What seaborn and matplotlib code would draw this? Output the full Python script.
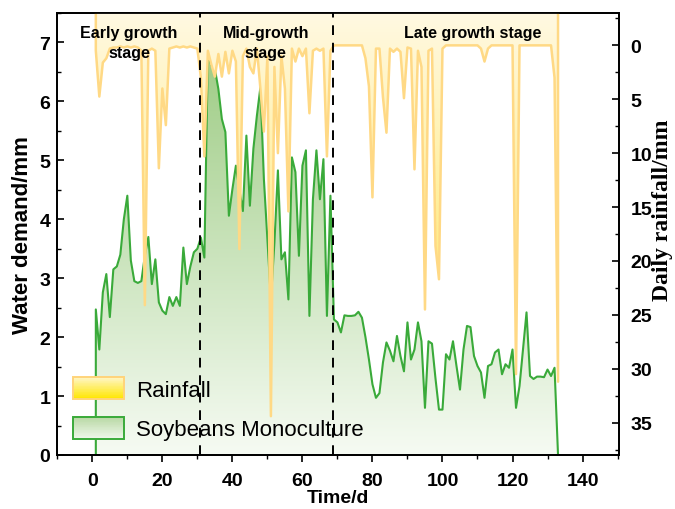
import numpy as np
import pandas as pd
import matplotlib
matplotlib.use("Agg")
import matplotlib.pyplot as plt
import seaborn as sns
from matplotlib.patches import PathPatch, Rectangle, Patch
from matplotlib.colors import LinearSegmentedColormap, to_rgb
from matplotlib.legend_handler import HandlerBase
from matplotlib.ticker import MultipleLocator
import matplotlib.transforms as mtransforms

# ---------------- data ----------------
days = list(range(1, 134))

water_demand = [
    2.47, 1.79, 2.76, 3.07, 2.34, 3.15, 3.20, 3.40, 4.00, 4.40,
    3.30, 2.95, 2.92, 2.95, 3.38, 3.70, 2.90, 3.32, 2.59, 2.45,
    2.39, 2.68, 2.53, 2.68, 2.53, 3.52, 2.90, 3.20, 3.44, 3.50,
    3.69, 3.35, 6.81, 6.61, 6.55, 6.21, 5.70, 5.48, 4.06, 4.51,
    4.91, 4.50, 4.14, 5.42, 4.23, 5.20, 5.76, 6.24, 4.68, 3.66,
    2.64, 3.60, 4.83, 3.32, 3.44, 2.64, 5.05, 4.80, 3.38, 4.91,
    5.17, 2.36, 4.34, 5.17, 4.34, 5.02, 2.36, 4.40, 2.30, 2.25,
    2.08, 2.37, 2.36, 2.36, 2.37, 2.43, 2.33, 2.00, 1.62, 1.20,
    0.97, 1.05, 1.57, 1.91, 1.77, 1.59, 2.02, 1.68, 1.42, 2.25,
    1.62, 1.79, 2.25, 1.93, 0.80, 1.93, 1.89, 1.30, 0.77, 0.77,
    1.71, 1.62, 1.93, 1.51, 1.11, 1.79, 2.19, 2.17, 1.68, 1.51,
    1.40, 0.97, 1.51, 1.54, 1.74, 1.79, 1.37, 1.54, 1.48, 1.79,
    0.80, 1.17, 1.79, 2.42, 1.34, 1.29, 1.33, 1.33, 1.32, 1.45,
    1.34, 1.48, 0.00,
]

rainfall = [
    0.5, 4.75, 1.6, 1.2, 0.3, 0.2, 0.2, 0.1, 0.2, 0.1,
    0.2, 0.1, 0.2, 0.5, 24.1, 0.5, 0.3, 0.5, 11.4, 4.0,
    7.4, 0.3, 0.2, 0.1, 0.2, 0.1, 0.2, 0.1, 0.2, 0.3,
    3.0, 10.3, 0.5, 1.8, 2.9, 0.8, 2.9, 0.6, 2.6, 0.5,
    1.5, 18.9, 1.0, 0.3, 2.0, 2.6, 0.3, 4.0, 8.0, 1.0,
    34.4, 2.0, 10.0, 1.0, 4.0, 15.4, 0.3, 1.5, 0.3, 1.0,
    0.3, 6.3, 0.5, 0.3, 0.5, 0.3, 10.3, 0.5, 0.0, 0.0,
    0.0, 0.0, 0.0, 0.0, 0.0, 0.0, 0.0, 1.2, 3.8, 14.1,
    0.3, 0.3, 4.8, 8.1, 0.3, 0.6, 0.3, 0.6, 4.9, 0.2,
    0.3, 11.5, 0.5, 2.0, 24.5, 0.5, 0.3, 18.6, 21.7, 0.3,
    0.0, 0.0, 0.0, 0.0, 0.0, 0.0, 0.0, 0.0, 0.0, 0.0,
    0.3, 1.5, 0.3, 0.0, 0.0, 0.0, 0.0, 0.0, 0.0, 0.0,
    30.5, 0.0, 0.0, 0.0, 0.0, 0.0, 0.0, 0.0, 0.0, 0.0,
    0.0, 3.0, 31.2,
]

stage_bounds = [30.8, 68.7]
stage_labels = ["Early growth\nstage", "Mid-growth\nstage", "Late growth stage"]
stage_label_x = [10.5, 49.5, 108.6]
legend_labels = ["Rainfall", "Soybeans Monoculture"]

x_ticks = [0, 20, 40, 60, 80, 100, 120, 140]
left_ticks = [0, 1, 2, 3, 4, 5, 6, 7]
right_ticks = [0, 5, 10, 15, 20, 25, 30, 35]

# ---------------- style ----------------
sns.set_theme(style="ticks")
plt.rcParams["font.family"] = ["Liberation Sans", "DejaVu Sans"]
plt.rcParams["axes.linewidth"] = 1.3
plt.rcParams["text.color"] = "black"
plt.rcParams["axes.labelcolor"] = "black"
plt.rcParams["xtick.color"] = "black"
plt.rcParams["ytick.color"] = "black"

GREEN = "#3aaa3a"
GREEN_TOP = "#9ccb82"
GREEN_BOT = "#f6fbf3"
RAIN_LINE = "#ffd985"
RAIN_TOP = "#fff9e2"
RAIN_DEEP = "#ffe34a"

fig = plt.figure(figsize=(6.75, 5.1), dpi=100)
ax = fig.add_axes([0.0849, 0.1059, 0.9175 - 0.0849, 0.9725 - 0.1059])
ax2 = ax.twinx()

df = pd.DataFrame({"day": days, "water": water_demand, "rain": rainfall})


def gradient_fill(axis, x, y_from, y_to, c_lo, c_hi, v_lo, v_hi, zorder):
    coll = axis.fill_between(x, y_from, y_to, facecolor="none", edgecolor="none")
    path = coll.get_paths()[0]
    coll.remove()
    patch = PathPatch(path, transform=axis.transData, facecolor="none", edgecolor="none")
    axis.add_patch(patch)
    cmap = LinearSegmentedColormap.from_list("grad", [c_lo, c_hi])
    grad = np.linspace(0, 1, 256).reshape(-1, 1)
    im = axis.imshow(grad, extent=[min(x), max(x), v_lo, v_hi], origin="lower",
                     aspect="auto", cmap=cmap, zorder=zorder, interpolation="bilinear")
    im.set_clip_path(patch)
    return im


# --- water demand (left axis) ---
gradient_fill(ax, df["day"], 0, df["water"], GREEN_BOT, GREEN_TOP, 0, 7.0, 1)
edge_x = [days[0]] + days + [days[-1]]
edge_w = [0] + water_demand + [0]
sns.lineplot(x=edge_x, y=edge_w, ax=ax, color=GREEN, lw=1.5, sort=False,
             estimator=None, zorder=2, legend=False)

# --- rainfall (right axis, inverted) ---
RTOP = -3
gradient_fill(ax2, df["day"], RTOP, df["rain"], RAIN_TOP, RAIN_DEEP, RTOP, 36, 1)
edge_r = [RTOP] + rainfall + [RTOP]
sns.lineplot(x=edge_x, y=edge_r, ax=ax2, color=RAIN_LINE, lw=1.8, sort=False,
             estimator=None, zorder=2, legend=False)

# stage separators
for b in stage_bounds:
    ax2.axvline(b, color="black", lw=1.4, ls=(0, (5, 4)), zorder=5)

trans = mtransforms.blended_transform_factory(ax2.transData, ax2.transAxes)
for lx, lab in zip(stage_label_x, stage_labels):
    ax2.text(lx, 0.972, lab, ha="center", va="top", fontsize=11.5,
             fontweight="bold", color="black", transform=trans,
             linespacing=1.42, zorder=6)

# ---------------- axes ----------------
ax.set_xlim(-10, 150.5)
ax.set_ylim(0, 7.5)
ax2.set_ylim(38, RTOP)
ax2.set_xlim(-10, 150.5)

ax.set_xticks(x_ticks)
ax.set_yticks(left_ticks)
ax2.set_yticks(right_ticks)
ax.xaxis.set_minor_locator(MultipleLocator(10))
ax.yaxis.set_minor_locator(MultipleLocator(0.5))
ax2.yaxis.set_minor_locator(MultipleLocator(2.5))

ax.tick_params(axis="x", which="major", direction="out", length=5, width=1.2,
               labelsize=14, pad=7, colors="black")
ax.tick_params(axis="x", which="minor", direction="out", length=3, width=1.0)
ax.tick_params(axis="y", which="major", direction="in", length=5, width=1.2,
               labelsize=14, pad=5, colors="black")
ax.tick_params(axis="y", which="minor", direction="in", length=3, width=1.0)
ax2.tick_params(axis="y", which="major", direction="in", length=5, width=1.2,
                labelsize=14, pad=8, colors="black")
ax2.tick_params(axis="y", which="minor", direction="in", length=3, width=1.0)

for lab in ax.get_xticklabels() + ax.get_yticklabels() + ax2.get_yticklabels():
    lab.set_fontweight("bold")

for sp in list(ax.spines.values()) + list(ax2.spines.values()):
    sp.set_color("black")
    sp.set_linewidth(1.3)

ax.set_xlabel("Time/d", fontsize=14, fontweight="bold", labelpad=0)
ax.set_ylabel("Water demand/mm", fontsize=16, fontweight="bold", labelpad=5)
ax2.set_ylabel("Daily rainfall/mm", fontsize=17, fontweight="bold",
               family=["Liberation Serif", "DejaVu Serif"])
ax2.yaxis.set_label_coords(1.058, 0.555)


# ---------------- legend ----------------
class GradientHandler(HandlerBase):
    def __init__(self, c_top, c_bot, edge):
        super().__init__()
        self.c_top = np.array(to_rgb(c_top))
        self.c_bot = np.array(to_rgb(c_bot))
        self.edge = edge

    def create_artists(self, legend, orig_handle, xdescent, ydescent, width,
                       height, fontsize, trans):
        n = 30
        arts = []
        for i in range(n):
            t = i / (n - 1)
            c = self.c_top * (1 - t) + self.c_bot * t
            y0 = -ydescent + height * (1 - (i + 1) / n)
            arts.append(Rectangle((-xdescent, y0), width, height / n + 0.3,
                                  facecolor=c, edgecolor="none", transform=trans))
        arts.append(Rectangle((-xdescent, -ydescent), width, height, facecolor="none",
                              edgecolor=self.edge, lw=1.4, transform=trans))
        return arts


h_rain = Patch(label=legend_labels[0])
h_green = Patch(label=legend_labels[1])
leg = ax2.legend(
    handles=[h_rain, h_green], labels=legend_labels,
    handler_map={h_rain: GradientHandler("#fff6c8", "#ffe600", "#ffd47a"),
                 h_green: GradientHandler("#b7d8a3", "#eef6e9", GREEN)},
    loc="lower left", bbox_to_anchor=(0.028, 0.033), frameon=False,
    fontsize=16, handlelength=2.3, handleheight=1.15, handletextpad=0.55,
    labelspacing=0.72, borderpad=0, borderaxespad=0,
)
for t in leg.get_texts():
    t.set_color("black")
leg.set_zorder(10)

fig.savefig("out.png", dpi=100)
